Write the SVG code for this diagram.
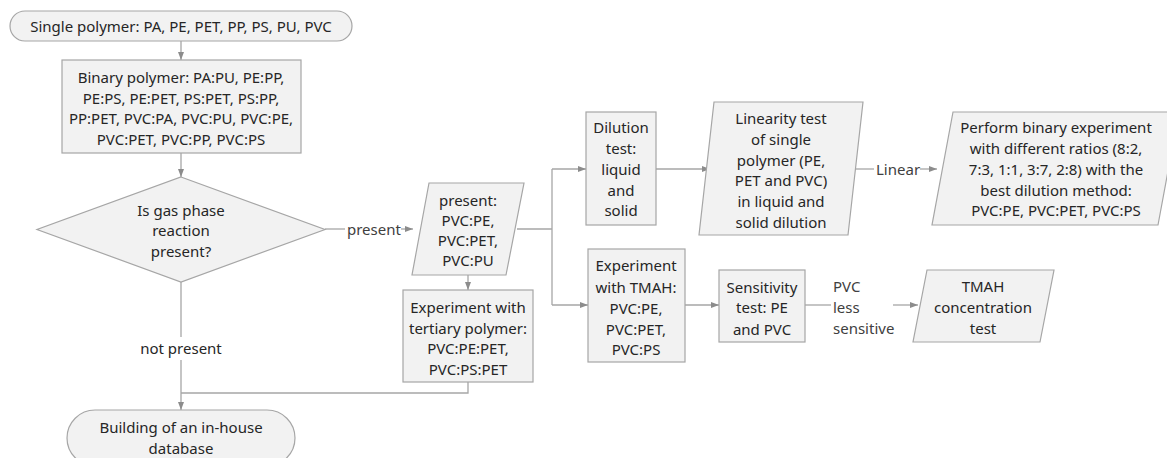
<svg xmlns="http://www.w3.org/2000/svg" width="1167" height="458" viewBox="0 0 1167 458">
<style>
.n{fill:#f2f2f2;stroke:#a6a6a6;stroke-width:1.2}
.t{font-family:"Noto Sans","Open Sans",sans-serif;font-size:15px;fill:#262626;text-anchor:middle;dominant-baseline:central}
.l{font-family:"Noto Sans","Open Sans",sans-serif;font-size:15px;fill:#404040;dominant-baseline:central}
.c{fill:none;stroke:#a6a6a6;stroke-width:1.3}
</style>
<defs>
<marker id="a" viewBox="0 0 8 8" refX="8" refY="4" markerWidth="8" markerHeight="8" markerUnits="userSpaceOnUse" orient="auto">
<path d="M0,1 L8,4 L0,7 z" fill="#8c8c8c"/>
</marker>
</defs>
<rect width="1167" height="458" fill="#ffffff"/>
<g id="connectors">
<path class="c" d="M181,41 V60" marker-end="url(#a)"/>
<path class="c" d="M181,153 V177" marker-end="url(#a)"/>
<path class="c" d="M325,229 H345"/>
<path class="c" d="M401,229 H413" marker-end="url(#a)"/>
<path class="c" d="M468,275 V290" marker-end="url(#a)"/>
<path class="c" d="M517,229 H552"/>
<path class="c" d="M552,169 V305"/>
<path class="c" d="M552,169 H586" marker-end="url(#a)"/>
<path class="c" d="M552,305 H588" marker-end="url(#a)"/>
<path class="c" d="M656,169 H710" marker-end="url(#a)"/>
<path class="c" d="M852,169 H874"/>
<path class="c" d="M920,169 H937" marker-end="url(#a)"/>
<path class="c" d="M685,305 H719" marker-end="url(#a)"/>
<path class="c" d="M805,305 H831"/>
<path class="c" d="M893,305 H918" marker-end="url(#a)"/>
<path class="c" d="M181,282 V337"/>
<path class="c" d="M181,360 V410" marker-end="url(#a)"/>
<path class="c" d="M468,382 V393 H181"/>
<text class="l" x="347" y="229">present</text>
<text class="l" x="876" y="169">Linear</text>
<text class="t" x="181" y="348">not present</text>
<text class="l" x="833" y="286">PVC</text>
<text class="l" x="833" y="307">less</text>
<text class="l" x="833" y="328">sensitive</text>
</g>
<g id="single">
<rect class="n" x="10" y="11" width="342" height="30" rx="15"/>
<text class="t" x="181" y="26">Single polymer: PA, PE, PET, PP, PS, PU, PVC</text>
</g>
<g id="binary">
<rect class="n" x="62" y="60" width="239" height="93"/>
<text class="t" x="181" y="77">Binary polymer: PA:PU, PE:PP,</text>
<text class="t" x="181" y="98">PE:PS, PE:PET, PS:PET, PS:PP,</text>
<text class="t" x="181" y="118">PP:PET, PVC:PA, PVC:PU, PVC:PE,</text>
<text class="t" x="181" y="139">PVC:PET, PVC:PP, PVC:PS</text>
</g>
<g id="decision">
<path class="n" d="M181,177 L325,229.5 L181,282 L37,229.5 Z"/>
<text class="t" x="181" y="210">Is gas phase</text>
<text class="t" x="181" y="230">reaction</text>
<text class="t" x="181" y="251">present?</text>
</g>
<g id="present">
<path class="n" d="M429,183 L524,183 L506,275 L412,275 Z"/>
<text class="t" x="468" y="200">present:</text>
<text class="t" x="468" y="220">PVC:PE,</text>
<text class="t" x="468" y="240">PVC:PET,</text>
<text class="t" x="468" y="260">PVC:PU</text>
</g>
<g id="tertiary">
<rect class="n" x="403" y="290" width="130" height="92"/>
<text class="t" x="468" y="307">Experiment with</text>
<text class="t" x="468" y="328">tertiary polymer:</text>
<text class="t" x="468" y="348">PVC:PE:PET,</text>
<text class="t" x="468" y="369">PVC:PS:PET</text>
</g>
<g id="database">
<rect class="n" x="67" y="410" width="228" height="56" rx="28"/>
<text class="t" x="181" y="427">Building of an in-house</text>
<text class="t" x="181" y="448">database</text>
</g>
<g id="dilution">
<rect class="n" x="586" y="112" width="70" height="113"/>
<text class="t" x="621" y="127">Dilution</text>
<text class="t" x="621" y="148">test:</text>
<text class="t" x="621" y="169">liquid</text>
<text class="t" x="621" y="190">and</text>
<text class="t" x="621" y="210">solid</text>
</g>
<g id="linearity">
<path class="n" d="M714,102 L863,102 L848,235 L699,235 Z"/>
<text class="t" x="781" y="118">Linearity test</text>
<text class="t" x="781" y="139">of single</text>
<text class="t" x="781" y="160">polymer (PE,</text>
<text class="t" x="781" y="180">PET and PVC)</text>
<text class="t" x="781" y="201">in liquid and</text>
<text class="t" x="781" y="222">solid dilution</text>
</g>
<g id="perform">
<path class="n" d="M953,112 L1179,112 L1158,225 L932,225 Z"/>
<text class="t" x="1056" y="127">Perform binary experiment</text>
<text class="t" x="1056" y="148">with different ratios (8:2,</text>
<text class="t" x="1056" y="169">7:3, 1:1, 3:7, 2:8) with the</text>
<text class="t" x="1056" y="190">best dilution method:</text>
<text class="t" x="1056" y="210">PVC:PE, PVC:PET, PVC:PS</text>
</g>
<g id="tmah">
<rect class="n" x="588" y="249" width="97" height="113"/>
<text class="t" x="636" y="265">Experiment</text>
<text class="t" x="636" y="287">with TMAH:</text>
<text class="t" x="636" y="308">PVC:PE,</text>
<text class="t" x="636" y="329">PVC:PET,</text>
<text class="t" x="636" y="349">PVC:PS</text>
</g>
<g id="sensitivity">
<rect class="n" x="719" y="270" width="86" height="72"/>
<text class="t" x="762" y="287">Sensitivity</text>
<text class="t" x="762" y="307">test: PE</text>
<text class="t" x="762" y="329">and PVC</text>
</g>
<g id="concentration">
<path class="n" d="M927,270 L1054,270 L1040,342 L913,342 Z"/>
<text class="t" x="983" y="286">TMAH</text>
<text class="t" x="983" y="307">concentration</text>
<text class="t" x="983" y="328">test</text>
</g>
</svg>
